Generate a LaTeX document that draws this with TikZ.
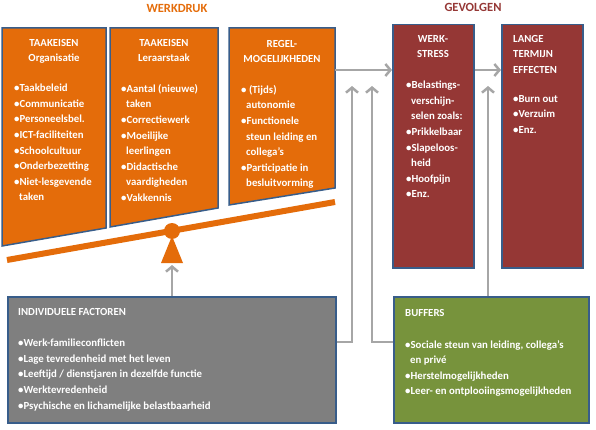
\documentclass[tikz,border=0pt]{standalone}
\usepackage{fontspec}
\setmainfont{Carlito}
\usetikzlibrary{arrows.meta}
\definecolor{oranje}{HTML}{E46C0A}
\definecolor{rand}{HTML}{385D8A}
\definecolor{donkerrood}{HTML}{953735}
\definecolor{grijs}{HTML}{7F7F7F}
\definecolor{groen}{HTML}{77933C}
\definecolor{pijlgrijs}{HTML}{A6A6A6}
\newcommand{\inspring}{\hspace*{5pt}}

\begin{document}
\begin{tikzpicture}[
  x=1pt, y=-1pt,
  font=\fontsize{10.8}{15.6}\selectfont\bfseries,
  vlak/.style={draw=rand, line width=1.5pt},
  box/.style={vlak, anchor=north west, inner sep=0pt},
  stressbox/.style={box, fill=donkerrood, minimum width=81pt, minimum height=243pt},
  onderbox/.style={box, minimum height=126pt},
  tekst/.style={text=white, align=left, anchor=north west, inner sep=0pt},
  kop/.style={text=white, align=center, anchor=north, inner sep=0pt},
  titel/.style={font=\fontsize{12.5}{14}\selectfont\bfseries},
  pijl/.style={draw=pijlgrijs, line width=2.5pt, -{Straight Barb[length=5pt,width=12pt]}}
]
\useasboundingbox (0,0) rectangle (596,430);

\node[titel, text=oranje] (werkdruk) at (177,8) {WERKDRUK};
\node[titel, text=donkerrood] (gevolgen) at (473,7) {GEVOLGEN};

\draw[vlak, fill=oranje] (2,28) -- (106,28) -- (106,228) -- (2,246) -- cycle;
\draw[vlak, fill=oranje] (110,28) -- (218,28) -- (218,208) -- (110,227) -- cycle;
\draw[vlak, fill=oranje] (229,28) -- (335,28) -- (335,188) -- (229,205) -- cycle;

\node[stressbox] (stress) at (392,24) {};
\node[stressbox] (lange) at (501,24) {};
\node[onderbox, fill=grijs, minimum width=328pt] (indiv) at (7,296) {};
\node[onderbox, fill=groen, minimum width=195pt] (buffers) at (393,296) {};

\draw[oranje, line width=6pt] (7,260) -- (335,202);
\fill[oranje] (172,231) circle (8pt);
\fill[oranje] (172,236) -- (183,263) -- (161,263) -- cycle;

\node[kop] (orgkop) at (54,39) {TAAKEISEN\\Organisatie};
\node[tekst] (org) at (14,84) {•Taakbeleid\\•Communicatie\\•Personeelsbel.\\•ICT-faciliteiten\\•Schoolcultuur\\•Onderbezetting\\•Niet-lesgevende\\\inspring taken};

\node[kop] (leraarkop) at (164,39) {TAAKEISEN\\Leraarstaak};
\node[tekst] (leraar) at (121,84) {•Aantal (nieuwe)\\\inspring taken\\•Correctiewerk\\•Moeilijke\\\inspring leerlingen\\•Didactische\\\inspring vaardigheden\\•Vakkennis};

\node[kop] (regelkop) at (282,40) {REGEL-\\MOGELIJKHEDEN};
\node[tekst] (regel) at (241,85) {• (Tijds)\\\inspring autonomie\\•Functionele\\\inspring steun leiding en\\\inspring collega’s\\•Participatie in\\\inspring besluitvorming};

\node[kop] (stresskop) at (433,35) {WERK-\\STRESS};
\node[tekst] (stresslijst) at (406,81) {•Belastings-\\\inspring verschijn-\\\inspring selen zoals:\\•Prikkelbaar\\•Slapeloos-\\\inspring heid\\•Hoofpijn\\•Enz.};

\node[tekst] (langekop) at (513,35) {LANGE\\TERMIJN\\EFFECTEN};
\node[tekst] (langelijst) at (513,95) {•Burn out\\•Verzuim\\•Enz.};

\node[tekst] (indivkop) at (18,308) {INDIVIDUELE FACTOREN};
\node[tekst] (indivlijst) at (18,339) {•Werk-familieconflicten\\•Lage tevredenheid met het leven\\•Leeftijd / dienstjaren in dezelfde functie\\•Werktevredenheid\\•Psychische en lichamelijke belastbaarheid};

\node[tekst] (bufferskop) at (405,309) {BUFFERS};
\node[tekst] (bufferslijst) at (405,340) {•Sociale steun van leiding, collega’s\\\inspring en privé\\•Herstelmogelijkheden\\•Leer- en ontplooiingsmogelijkheden};

\coordinate (regeluit) at (335,70);
\coordinate (steun) at (172,265);
\coordinate (knik1) at (352,342);
\coordinate (knik2) at (372,342);
\coordinate (invloed1) at (352,86);
\coordinate (invloed2) at (372,86);
\coordinate (invloed3) at (488,86);

\draw[pijl] (regeluit) -- (stress.west |- regeluit);
\draw[pijl] (stress.east |- regeluit) -- (lange.west |- regeluit);
\draw[pijl] (indiv.north -| steun) -- (steun);
\draw[pijl] (indiv.east |- knik1) -- (knik1) -- (invloed1);
\draw[pijl] (buffers.west |- knik2) -- (knik2) -- (invloed2);
\draw[pijl] (buffers.north -| invloed3) -- (invloed3);

\end{tikzpicture}
\end{document}
